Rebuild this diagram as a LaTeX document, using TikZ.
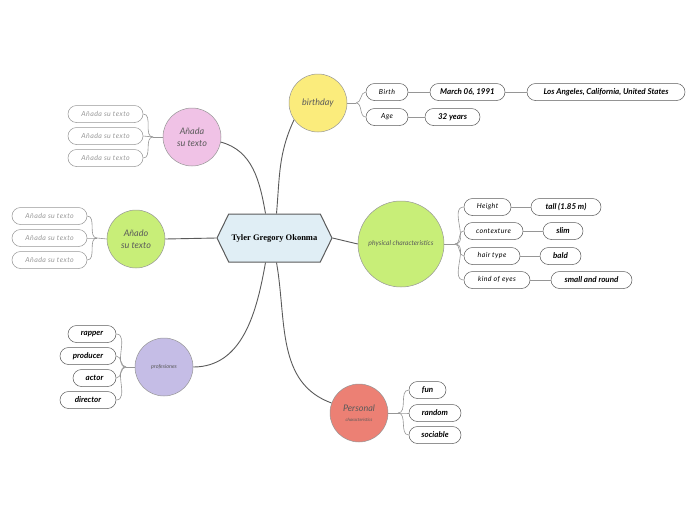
\documentclass[tikz,border=0pt]{standalone}
\usepackage{fontspec}
\setmainfont{Lato}
\newfontfamily\titlefont{Liberation Serif}
\usetikzlibrary{shapes.symbols}
\definecolor{line}{RGB}{90, 90, 90}
\definecolor{soft}{RGB}{150, 150, 150}
\definecolor{hexfill}{RGB}{224, 238, 245}
\definecolor{bdayfill}{RGB}{251, 236, 124}
\definecolor{pinkfill}{RGB}{240, 194, 230}
\definecolor{limefill}{RGB}{200, 238, 120}
\definecolor{lavfill}{RGB}{197, 189, 230}
\definecolor{salmonfill}{RGB}{236, 128, 116}

\tikzset{
  hexa/.style={shape=signal, signal to=east and west, signal pointer angle=128,
    draw=line, fill=hexfill, line width=1pt, minimum width=115pt, minimum height=48pt,
    inner sep=0pt, font=\titlefont\bfseries\fontsize{8.5}{10}\selectfont},
  topic/.style={circle, draw=soft, line width=0.5pt, minimum size=58pt, inner sep=0pt,
    align=center, text=line, font=\itshape\fontsize{9}{12}\selectfont},
  leaf/.style={rectangle, rounded corners=8.5pt, draw=line, line width=0.5pt,
    minimum height=17pt, inner sep=0pt, font=\itshape\fontsize{7}{8}\selectfont\addfontfeatures{LetterSpace=6}},
  fact/.style={leaf, font=\bfseries\itshape\fontsize{8}{9}\selectfont},
  hint/.style={leaf, draw=soft, text=soft},
  link/.style={line, line width=0.9pt},
  twig/.style={soft, line width=0.6pt}
}

\begin{document}
\begin{tikzpicture}[x=1pt, y=-1pt]
  \useasboundingbox (0, 0) rectangle (696, 520);

  % centre
  \node[hexa] (tyler) at (274.5, 238) {Tyler Gregory Okonma};

  % main topics
  \node[topic, fill=bdayfill] (bday) at (318, 103) {birthday};
  \node[topic, fill=pinkfill] (pinktopic) at (192, 137) {Añada\\su texto};
  \node[topic, fill=limefill] (limetopic) at (136, 239) {Añado\\su texto};
  \node[topic, fill=lavfill, font=\itshape\fontsize{5.5}{7}\selectfont] (prof) at (164, 367) {profesiones};
  \node[topic, fill=limefill, minimum size=86pt, font=\itshape\fontsize{6.8}{8}\selectfont] (phys) at (401, 244) {physical characteristics};
  \node[topic, fill=salmonfill] (pers) at (359, 413)
    {Personal\\[-2pt]{\fontsize{4.5}{5}\selectfont characteristics}};

  \draw[link] ([xshift=2pt]tyler.north) to[out=85, in=-115] (bday.-145);
  \draw[link] ([xshift=-9pt]tyler.north) to[out=100, in=-15] (pinktopic.-10);
  \draw[link] (tyler.west) -- (limetopic.east);
  \draw[link] ([xshift=-9pt]tyler.south) to[out=-100, in=0] (prof.east);
  \draw[link] ([xshift=2pt]tyler.south) to[out=-80, in=160] (pers.160);
  \draw[link] (tyler.east) -- (phys.west);

  % birthday
  \node[leaf, minimum width=42pt] (birth) at (387, 92) {Birth};
  \node[leaf, minimum width=42pt] (age) at (387, 117) {Age};
  \node[fact, minimum width=75pt] (date) at (467.5, 92) {March 06, 1991};
  \node[fact, minimum width=158pt] (place) at (606, 92) {Los Angeles, California, United States};
  \node[fact, minimum width=55pt] (years) at (452.5, 117) {32 years};
  \coordinate (bdayfork) at (356, 103);
  \draw[twig] (bday.east) -- (bdayfork);
  \foreach \leafname in {birth, age}
    \draw[twig] (bdayfork) to[out=0, in=180] (\leafname.west);
  \draw[twig] (birth) -- (date);
  \draw[twig] (date) -- (place);
  \draw[twig] (age) -- (years);

  % placeholders
  \coordinate (pinkfork) at (153, 137);
  \draw[twig] (pinktopic.west) -- (pinkfork);
  \foreach \y [count=\n] in {114, 136, 158} {
    \node[hint, minimum width=75pt] (pinkleaf\n) at (105.5, \y) {Añada su texto};
    \draw[twig] (pinkleaf\n.east) to[out=0, in=180] (pinkfork);
  }
  \coordinate (limefork) at (97, 238);
  \draw[twig] (limetopic.west) -- (limefork);
  \foreach \y [count=\n] in {216, 238, 260} {
    \node[hint, minimum width=75pt] (limeleaf\n) at (49.5, \y) {Añada su texto};
    \draw[twig] (limeleaf\n.east) to[out=0, in=180] (limefork);
  }

  % professions
  \coordinate (proffork) at (126, 367);
  \draw[twig] (prof.west) -- (proffork);
  \foreach \job/\x/\y/\w in {rapper/92/334/48, producer/88/356/56, actor/94.5/378/43, director/88/400/56} {
    \node[fact, minimum width=\w pt] (\job) at (\x, \y) {\job};
    \draw[twig] (\job.east) to[out=0, in=180] (proffork);
  }

  % physical
  \coordinate (physfork) at (455, 244);
  \draw[twig] (phys.east) -- (physfork);
  \node[leaf, minimum width=47pt] (height) at (487.5, 207) {Height};
  \node[leaf, minimum width=59pt] (texture) at (493.5, 231) {contexture};
  \node[leaf, minimum width=56pt] (hair) at (492, 256) {hair type};
  \node[leaf, minimum width=66pt] (eyes) at (497, 280) {kind of eyes};
  \node[fact, minimum width=70pt] (tall) at (566, 207) {tall (1.85 m)};
  \node[fact, minimum width=40pt] (slim) at (563, 231) {slim};
  \node[fact, minimum width=41pt] (bald) at (560.5, 256) {bald};
  \node[fact, minimum width=81pt] (round) at (591.5, 280) {small and round};
  \foreach \a/\b in {height/tall, texture/slim, hair/bald, eyes/round} {
    \draw[twig] (physfork) to[out=0, in=180] (\a.west);
    \draw[twig] (\a) -- (\b);
  }

  % personal
  \coordinate (persfork) at (398, 413);
  \draw[twig] (pers.east) -- (persfork);
  \node[fact, minimum width=37pt] (fun) at (427.5, 390) {fun};
  \node[fact, minimum width=52pt] (random) at (435, 413) {random};
  \node[fact, minimum width=52pt] (sociable) at (435, 435) {sociable};
  \foreach \trait in {fun, random, sociable}
    \draw[twig] (persfork) to[out=0, in=180] (\trait.west);
\end{tikzpicture}
\end{document}
